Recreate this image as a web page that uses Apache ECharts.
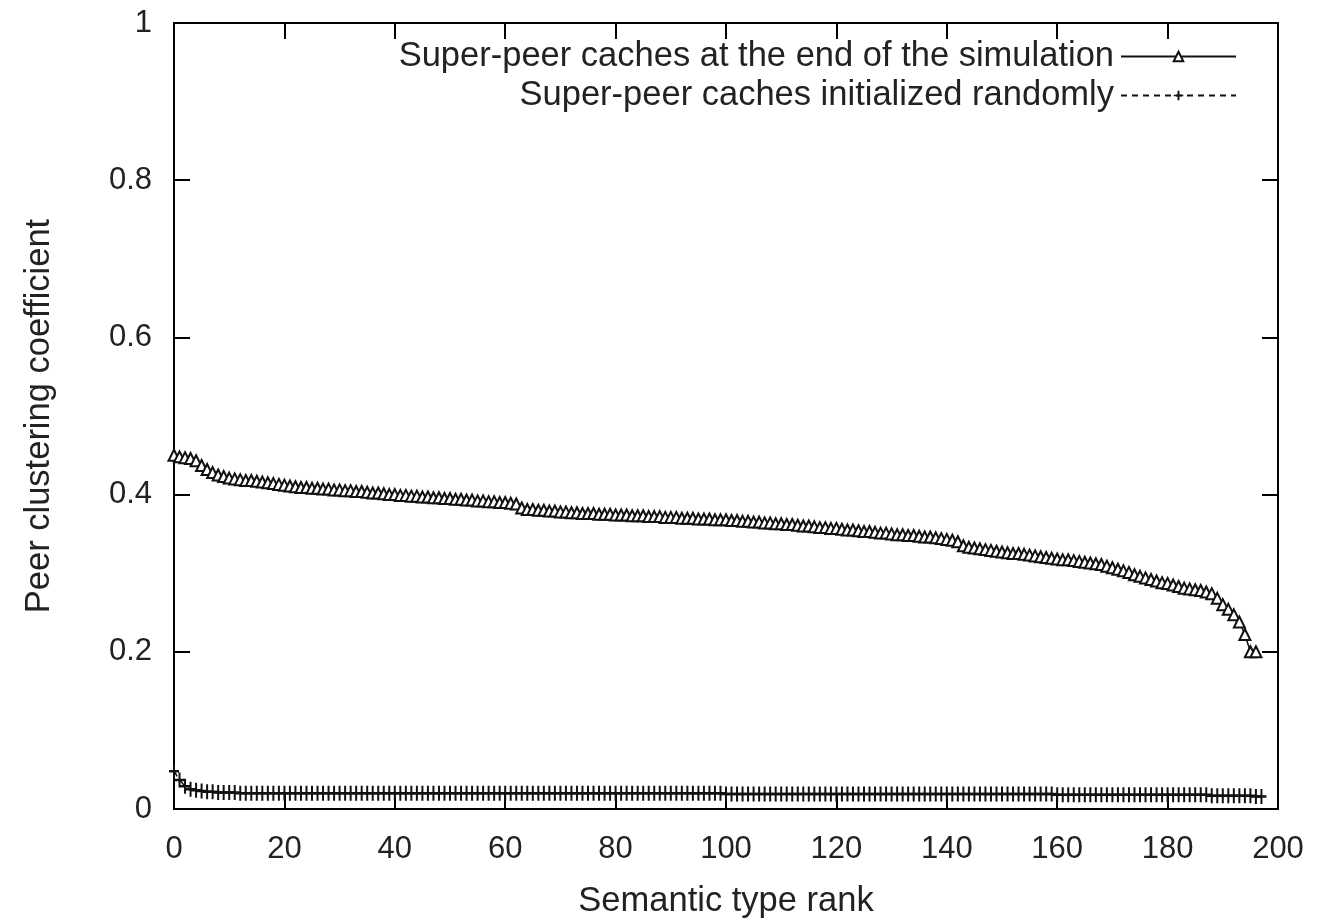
<!DOCTYPE html>
<html>
<head>
<meta charset="utf-8">
<script src="https://cdn.jsdelivr.net/npm/echarts@6/dist/echarts.min.js"></script>
<style>
html,body{margin:0;padding:0;background:#fff;}
#chart{width:1318px;height:924px;}
</style>
</head>
<body>
<div id="chart"></div>
<script>
const seriesNames = [
  'Super-peer caches at the end of the simulation',
  'Super-peer caches initialized randomly'
];
const xTicks = [0, 20, 40, 60, 80, 100, 120, 140, 160, 180, 200];
const yTicks = [0, 0.2, 0.4, 0.6, 0.8, 1];

// Semantic type rank 0..196
const endOfSimulation = [
  0.450, 0.448, 0.447, 0.446, 0.443, 0.437, 0.432, 0.428, 0.425, 0.423,
  0.421, 0.420, 0.419, 0.418, 0.418, 0.417, 0.416, 0.415, 0.414, 0.413,
  0.412, 0.411, 0.410, 0.409, 0.409, 0.408, 0.408, 0.407, 0.407, 0.406,
  0.406, 0.405, 0.405, 0.404, 0.404, 0.403, 0.402, 0.402, 0.401, 0.400,
  0.400, 0.399, 0.399, 0.398, 0.398, 0.397, 0.397, 0.396, 0.396, 0.395,
  0.395, 0.394, 0.394, 0.393, 0.393, 0.392, 0.392, 0.391, 0.391, 0.390,
  0.390, 0.389, 0.388, 0.383, 0.381, 0.381, 0.380, 0.380, 0.379, 0.379,
  0.378, 0.378, 0.377, 0.377, 0.376, 0.376, 0.376, 0.375, 0.375, 0.375,
  0.374, 0.374, 0.374, 0.373, 0.373, 0.373, 0.372, 0.372, 0.372, 0.371,
  0.371, 0.371, 0.370, 0.370, 0.370, 0.369, 0.369, 0.369, 0.368, 0.368,
  0.368, 0.367, 0.367, 0.366, 0.366, 0.365, 0.365, 0.364, 0.364, 0.363,
  0.363, 0.362, 0.362, 0.361, 0.360, 0.360, 0.359, 0.358, 0.358, 0.357,
  0.357, 0.356, 0.355, 0.355, 0.354, 0.353, 0.353, 0.352, 0.351, 0.351,
  0.350, 0.349, 0.349, 0.348, 0.348, 0.347, 0.346, 0.346, 0.345, 0.344,
  0.343, 0.342, 0.340, 0.335, 0.333, 0.332, 0.331, 0.330, 0.329, 0.328,
  0.327, 0.326, 0.325, 0.325, 0.324, 0.323, 0.322, 0.321, 0.320, 0.319,
  0.318, 0.317, 0.317, 0.316, 0.315, 0.314, 0.313, 0.312, 0.311, 0.309,
  0.307, 0.305, 0.303, 0.301, 0.298, 0.296, 0.294, 0.292, 0.290, 0.288,
  0.287, 0.285, 0.283, 0.281, 0.280, 0.279, 0.278, 0.276, 0.274, 0.268,
  0.260, 0.254, 0.247, 0.238, 0.222, 0.200, 0.200
];

// Semantic type rank 0..197
const initializedRandomly = [
  0.048, 0.037, 0.029, 0.025, 0.024, 0.023, 0.022, 0.022, 0.021, 0.021,
  0.021, 0.021, 0.020, 0.020, 0.020, 0.020, 0.020, 0.020, 0.020, 0.020,
  0.020, 0.020, 0.020, 0.020, 0.020, 0.020, 0.020, 0.020, 0.020, 0.020,
  0.020, 0.020, 0.020, 0.020, 0.020, 0.020, 0.020, 0.020, 0.020, 0.020,
  0.020, 0.020, 0.020, 0.020, 0.020, 0.020, 0.020, 0.020, 0.020, 0.020,
  0.020, 0.020, 0.020, 0.020, 0.020, 0.020, 0.020, 0.020, 0.020, 0.020,
  0.020, 0.020, 0.020, 0.020, 0.020, 0.020, 0.020, 0.020, 0.020, 0.020,
  0.020, 0.020, 0.020, 0.020, 0.020, 0.020, 0.020, 0.020, 0.020, 0.020,
  0.020, 0.020, 0.020, 0.020, 0.020, 0.020, 0.020, 0.020, 0.020, 0.020,
  0.020, 0.020, 0.020, 0.020, 0.020, 0.020, 0.020, 0.020, 0.020, 0.020,
  0.019, 0.019, 0.019, 0.019, 0.019, 0.019, 0.019, 0.019, 0.019, 0.019,
  0.019, 0.019, 0.019, 0.019, 0.019, 0.019, 0.019, 0.019, 0.019, 0.019,
  0.019, 0.019, 0.019, 0.019, 0.019, 0.019, 0.019, 0.019, 0.019, 0.019,
  0.019, 0.019, 0.019, 0.019, 0.019, 0.019, 0.019, 0.019, 0.019, 0.019,
  0.019, 0.019, 0.019, 0.019, 0.019, 0.019, 0.019, 0.019, 0.019, 0.019,
  0.019, 0.019, 0.019, 0.019, 0.019, 0.019, 0.019, 0.019, 0.019, 0.019,
  0.018, 0.018, 0.018, 0.018, 0.018, 0.018, 0.018, 0.018, 0.018, 0.018,
  0.018, 0.018, 0.018, 0.018, 0.018, 0.018, 0.018, 0.018, 0.018, 0.018,
  0.018, 0.018, 0.018, 0.018, 0.018, 0.018, 0.018, 0.018, 0.017, 0.017,
  0.017, 0.017, 0.017, 0.017, 0.017, 0.017, 0.016, 0.016
];

const FONT = '"Liberation Sans", Arial, sans-serif';
const FS_TICK = 31;
const FS_TEXT = 34.5;

const plusPath = 'path://M4,0h2v5h4v2h-4v5h-2v-5h-4v-2h4z';

function pairs(arr) { return arr.map((v, i) => [i, v]); }

const chart = echarts.init(document.getElementById('chart'), null, {renderer: 'canvas'});

const axisBase = {
  axisLine: {show: true, onZero: false, lineStyle: {color: '#000', width: 2}},
  axisTick: {show: true, inside: true, length: 16, lineStyle: {color: '#000', width: 2}},
  splitLine: {show: false},
  axisLabel: {color: '#222', fontFamily: FONT, fontSize: FS_TICK},
  nameTextStyle: {color: '#222', fontFamily: FONT, fontSize: FS_TEXT}
};

chart.setOption({
  animation: false,
  backgroundColor: '#fff',
  grid: {left: 174, top: 23, right: 40, bottom: 109, containLabel: false, show: false},
  legend: {
    show: true,
    orient: 'vertical',
    right: 76,
    top: 34,
    align: 'right',
    itemWidth: 115,
    itemHeight: 12,
    itemGap: 4,
    textStyle: {color: '#222', fontFamily: FONT, fontSize: FS_TEXT, padding: [0, 2, 0, 0]},
    data: seriesNames.slice()
  },
  xAxis: [
    Object.assign({}, axisBase, {
      type: 'value', min: 0, max: 200, interval: 20,
      name: 'Semantic type rank', nameLocation: 'middle', nameGap: 75,
      axisLabel: Object.assign({}, axisBase.axisLabel, {margin: 25,
        formatter: v => xTicks.indexOf(v) >= 0 ? String(v) : ''})
    }),
    Object.assign({}, axisBase, {
      type: 'value', min: 0, max: 200, interval: 20, position: 'top',
      axisLabel: {show: false}
    })
  ],
  yAxis: [
    Object.assign({}, axisBase, {
      type: 'value', min: 0, max: 1, interval: 0.2,
      name: 'Peer clustering coefficient', nameLocation: 'middle', nameGap: 117,
      axisLabel: Object.assign({}, axisBase.axisLabel, {margin: 22,
        formatter: v => { const t = yTicks.find(y => Math.abs(y - v) < 1e-9); return t === undefined ? '' : String(t); }})
    }),
    Object.assign({}, axisBase, {
      type: 'value', min: 0, max: 1, interval: 0.2, position: 'right',
      axisLabel: {show: false}
    })
  ],
  series: [
    {
      name: seriesNames[0],
      type: 'line',
      data: pairs(endOfSimulation),
      xAxisIndex: 0, yAxisIndex: 0,
      symbol: 'emptyTriangle',
      symbolSize: 11,
      showAllSymbol: true,
      lineStyle: {color: '#111', width: 1.5},
      itemStyle: {color: '#111', borderColor: '#111', borderWidth: 1.9},
      z: 3
    },
    {
      name: seriesNames[1],
      type: 'line',
      data: pairs(initializedRandomly),
      xAxisIndex: 0, yAxisIndex: 0,
      symbol: plusPath,
      symbolSize: [10, 15],
      showAllSymbol: true,
      lineStyle: {color: '#111', width: 1.5, type: [6, 5]},
      itemStyle: {color: '#111'},
      z: 3
    }
  ]
});
</script>
</body>
</html>
